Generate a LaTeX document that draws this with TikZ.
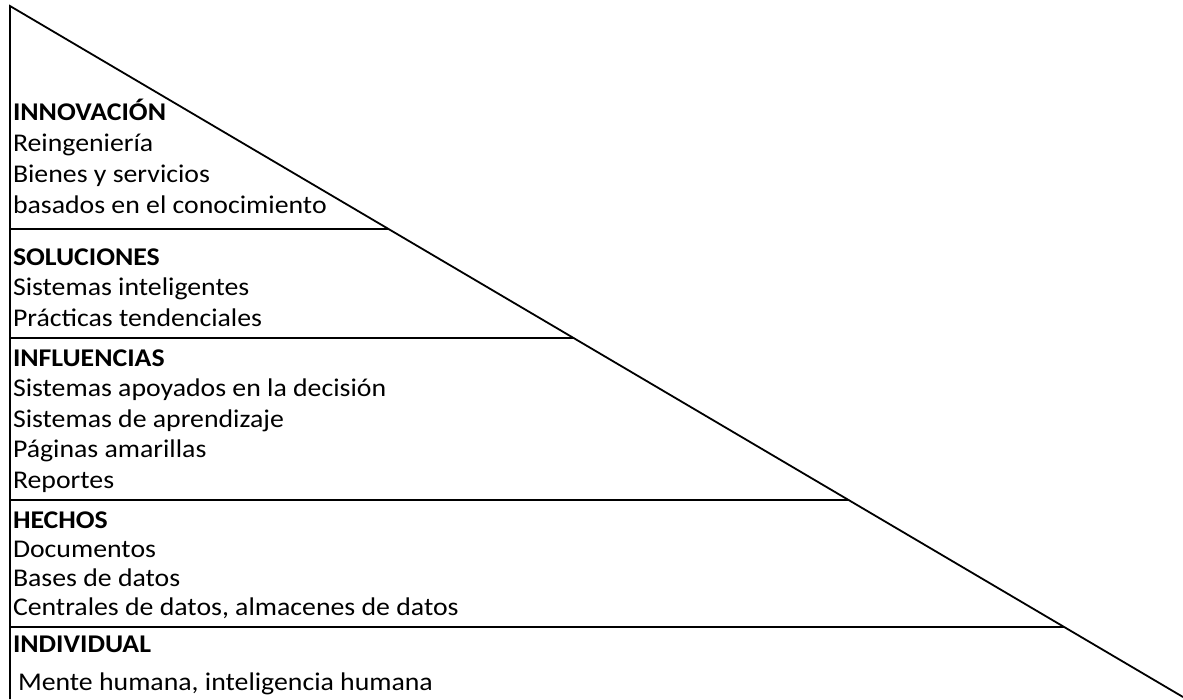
\documentclass[tikz,border=0pt]{standalone}
\usepackage{fontspec}
\setmainfont{Carlito}[FakeStretch=1.09]
\newcommand{\nivel}[3][31]{{\fontsize{25.5}{#1}\selectfont\begin{tabular}[t]{@{}l@{}}\textbf{#2}\\#3\end{tabular}}}

\begin{document}
\begin{tikzpicture}[x=1pt,y=-1pt,inner sep=0pt,outer sep=0pt,line width=1.8pt,
capa/.style={anchor=base west,align=left}]

\useasboundingbox (0,0) rectangle (1183,699);

\coordinate (top) at (10,6);
\coordinate (bottom) at (10,699);
\coordinate (tip) at (1183,697);
\draw (bottom) -- (top) -- (tip);

\node[capa] (innovacion) at (13,120) {\nivel{INNOVACIÓN}{Reingeniería\\Bienes y servicios\\basados en el conocimiento}};
\node[capa] (soluciones) at (13,265) {\nivel[30.5]{SOLUCIONES}{Sistemas inteligentes\\Prácticas tendenciales}};
\node[capa] (influencias) at (13,366) {\nivel[30.5]{INFLUENCIAS}{Sistemas apoyados en la decisión\\Sistemas de aprendizaje\\Páginas amarillas\\Reportes}};
\node[capa] (hechos) at (13,528) {\nivel[29]{HECHOS}{Documentos\\Bases de datos\\Centrales de datos, almacenes de datos}};
\node[capa] (individual) at (13,652) {\nivel[38.5]{INDIVIDUAL}{\hspace{5pt}Mente humana, inteligencia humana}};

% separaciones entre capas
\foreach \y/\n in {229/l1,338/l2,500/l3,627/l4}{
  \coordinate (\n) at (10,\y);
  \draw (\n) -- (intersection of top--tip and \n--{1183,\y});
}
\end{tikzpicture}
\end{document}
